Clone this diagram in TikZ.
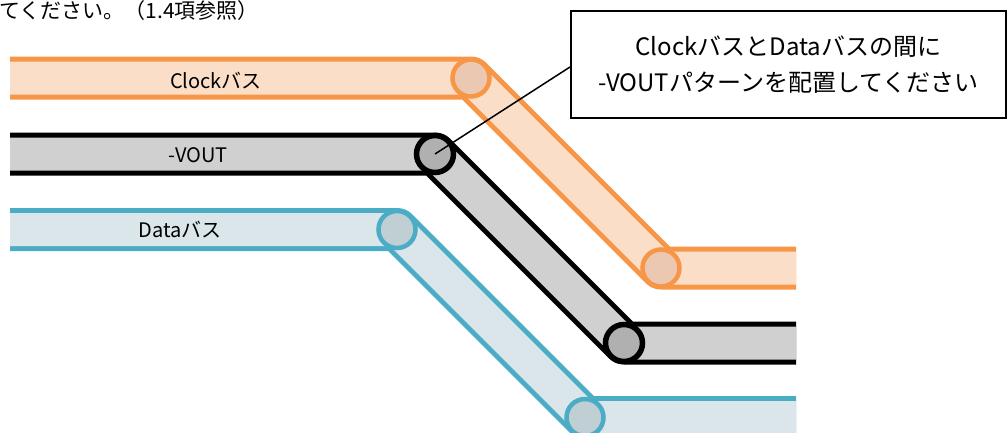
\documentclass[tikz,border=0pt]{standalone}
\usepackage{fontspec}
\newfontfamily\jpfont{Noto Sans CJK JP}
\definecolor{clockline}{HTML}{F79646}
\definecolor{clockfill}{RGB}{251,222,200}
\definecolor{clockdark}{RGB}{234,200,178}
\definecolor{voutline}{RGB}{0,0,0}
\definecolor{voutfill}{RGB}{208,208,208}
\definecolor{voutdark}{RGB}{176,176,176}
\definecolor{dataline}{HTML}{4BACC6}
\definecolor{datafill}{RGB}{218,230,234}
\definecolor{datadark}{RGB}{192,207,212}
\tikzset{
  bus/.style 2 args={draw=#1, line width=43bp, line join=round, line cap=butt,
    postaction={draw=#2, line width=33bp, line join=round}},
  bendring/.style 2 args={circle, draw=#1, fill=#2, line width=4.5bp,
    minimum size=37bp, inner sep=0pt},
  buslabel/.style={inner sep=0pt, font=\jpfont\fontsize{20bp}{24bp}\selectfont},
  notebox/.style={draw, fill=white, line width=2bp, minimum width=435bp,
    minimum height=107bp, align=center, inner sep=0pt,
    font=\jpfont\fontsize{24bp}{36.5bp}\selectfont},
  leader/.style={draw, line width=1.5bp},
}
\begin{document}
\begin{tikzpicture}[x=1bp, y=-1bp]
\useasboundingbox (0,0) rectangle (1007,432);
\clip (0,0) rectangle (1007,432);

% tail of the preceding sentence
\node[anchor=base west, inner sep=0pt, font=\jpfont\fontsize{21bp}{25bp}\selectfont]
  (prevline) at (-1,18) {てください。（1.4項参照）};

% bus centre lines
\coordinate (clk0) at (10,78);   \coordinate (clk1) at (471,78);
\coordinate (clk2) at (661,268); \coordinate (clk3) at (796,268);
\coordinate (vo0) at (10,154);   \coordinate (vo1) at (435,154);
\coordinate (vo2) at (624,343);  \coordinate (vo3) at (796,343);
\coordinate (da0) at (10,229.5); \coordinate (da1) at (397,229.5);
\coordinate (da2) at (585,417.5);\coordinate (da3) at (796,417.5);

% Clock bus
\path[bus={clockline}{clockfill}] (clk0) -- (clk1) -- (clk2) -- (clk3);
\node[bendring={clockline}{clockdark}] (clkA) at (clk1) {};
\node[bendring={clockline}{clockdark}] (clkB) at (clk2) {};
\node[buslabel] (clklabel) at (216,81) {Clockバス};

% -VOUT pattern
\path[bus={voutline}{voutfill}] (vo0) -- (vo1) -- (vo2) -- (vo3);
\node[bendring={voutline}{voutdark}, line width=5.5bp] (voA) at (vo1) {};
\node[bendring={voutline}{voutdark}, line width=5.5bp] (voB) at (vo2) {};
\node[buslabel] (volabel) at (198,155) {-VOUT};

% Data bus
\path[bus={dataline}{datafill}] (da0) -- (da1) -- (da2) -- (da3);
\node[bendring={dataline}{datadark}] (daA) at (da1) {};
\node[bendring={dataline}{datadark}] (daB) at (da2) {};
\node[buslabel] (dalabel) at (180,230) {Dataバス};

% callout
\node[notebox] (note) at (788.5,64.5)
  {ClockバスとDataバスの間に\\-VOUTパターンを配置してください};
\draw[leader] ([yshift=-2.5bp]note.west) -- (voA.center);
\end{tikzpicture}
\end{document}
